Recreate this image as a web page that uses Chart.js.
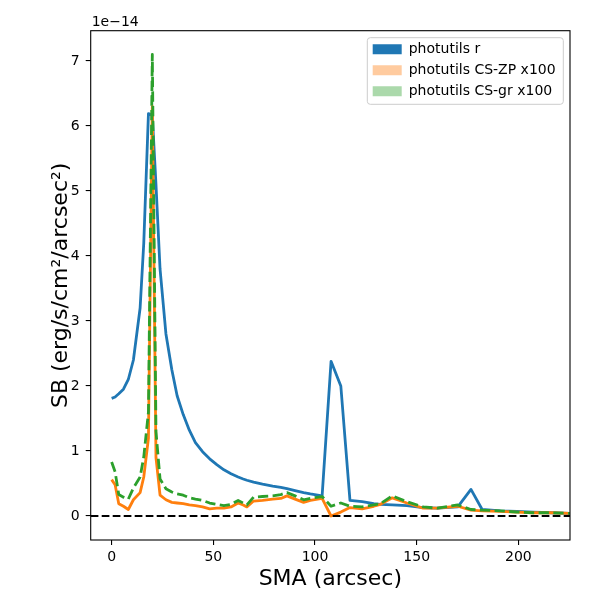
<!DOCTYPE html>
<html>
<head>
<meta charset="utf-8">
<script src="https://cdn.jsdelivr.net/npm/chart.js@4.4.0/dist/chart.umd.min.js"></script>
<style>html,body{margin:0;padding:0;background:#fff}</style>
</head>
<body>
<canvas id="sb-graph" width="600" height="600"></canvas>
<script>
// surface brightness profiles, values in units of 1e-14
const sma = [0, 1.7, 3.5, 5.8, 8.2, 10.7, 14.0, 15.8, 18.1, 20.0,
  21.8, 23.8, 26.7, 29.6, 32.2, 35.2, 38.2, 41.2, 44.7, 48.2,
  51.7, 55.2, 58.7, 62.2, 64.7, 66.5, 69.8, 74.2, 79.2, 83.2,
  86.2, 90.2, 94.4, 97.7, 103.5, 107.9, 112.7, 117.2, 123.2, 128.9,
  132.2, 138, 145.2, 153.2, 160.2, 170.2, 176.7, 182.2, 191.2, 199.2,
  207.2, 216.2, 225.2];
const sbR = [1.81, 1.83, 1.88, 1.95, 2.1, 2.4, 3.2, 4.2, 6.19, 6.16,
  5.1, 3.8, 2.8, 2.25, 1.85, 1.56, 1.32, 1.13, 0.99, 0.88,
  0.79, 0.71, 0.65, 0.6, 0.57, 0.55, 0.52, 0.49, 0.46, 0.44,
  0.42, 0.39, 0.36, 0.34, 0.31, 2.38, 2.0, 0.24, 0.22, 0.19,
  0.18, 0.17, 0.16, 0.13, 0.12, 0.14, 0.41, 0.1, 0.08, 0.07,
  0.06, 0.05, 0.04];
const sbCsZp = [0.56, 0.48, 0.19, 0.15, 0.1, 0.25, 0.36, 0.6, 1.2, 6.3,
  0.9, 0.32, 0.25, 0.21, 0.2, 0.19, 0.17, 0.16, 0.14, 0.11,
  0.12, 0.12, 0.14, 0.2, 0.17, 0.14, 0.23, 0.24, 0.26, 0.27,
  0.31, 0.26, 0.21, 0.24, 0.27, 0.0, 0.06, 0.13, 0.11, 0.15,
  0.18, 0.28, 0.2, 0.12, 0.12, 0.15, 0.09, 0.08, 0.07, 0.06,
  0.05, 0.05, 0.04];
const sbCsGr = [0.83, 0.68, 0.33, 0.29, 0.26, 0.43, 0.6, 0.91, 1.6, 7.1,
  1.3, 0.57, 0.42, 0.37, 0.34, 0.32, 0.28, 0.26, 0.24, 0.2,
  0.18, 0.16, 0.18, 0.24, 0.2, 0.17, 0.29, 0.3, 0.31, 0.33,
  0.36, 0.31, 0.25, 0.27, 0.3, 0.15, 0.2, 0.15, 0.14, 0.17,
  0.19, 0.31, 0.22, 0.14, 0.12, 0.17, 0.1, 0.09, 0.08, 0.06,
  0.05, 0.05, 0.04];
const seriesNames = ['photutils r', 'photutils CS-ZP x100', 'photutils CS-gr x100'];
const xLimits = [-10.3, 225.4];
const yLimits = [-0.369, 7.465];
const xTicks = [0, 50, 100, 150, 200];
const yTicks = [0, 1, 2, 3, 4, 5, 6, 7];

const FONT = "'DejaVu Sans', sans-serif";
const lineColors = ['#1f77b4', '#ff7f0e', '#2ca02c'];
const patchColors = ['#1f77b4', '#ffcb9f', '#abd9ab'];

const toPoints = ys => sma.map((x, i) => ({x: x, y: ys[i]}));

const decor = {
  id: 'decor',
  afterLayout(chart) {
    // put the legend in the upper right corner of the axes
    const lg = chart.legend;
    lg.left = 365.7;
    lg.top = 35.3;
    lg.right = lg.left + 200;
    lg.bottom = lg.top + 70;
  },
  beforeDraw(chart) {
    const c = chart.ctx;
    const lg = chart.legend;
    const x = lg.left + 1.6, y = lg.top + 2.4, w = 196, h = 66.6, r = 3;
    c.save();
    c.beginPath();
    c.moveTo(x + r, y);
    c.arcTo(x + w, y, x + w, y + h, r);
    c.arcTo(x + w, y + h, x, y + h, r);
    c.arcTo(x, y + h, x, y, r);
    c.arcTo(x, y, x + w, y, r);
    c.closePath();
    c.fillStyle = 'rgba(255,255,255,0.8)';
    c.fill();
    c.strokeStyle = '#cccccc';
    c.lineWidth = 1;
    c.stroke();
    c.restore();
  },
  afterDraw(chart) {
    const c = chart.ctx;
    const a = chart.chartArea;
    c.save();
    c.strokeStyle = '#000';
    c.lineWidth = 1.1;
    c.strokeRect(a.left, a.top, a.right - a.left, a.bottom - a.top);
    c.fillStyle = '#000';
    c.font = '14px ' + FONT;
    c.textAlign = 'left';
    c.textBaseline = 'alphabetic';
    c.fillText('1e\u221214', a.left + 1, 26);
    c.restore();
  }
};

const ctx = document.getElementById('sb-graph').getContext('2d');

const chartConfig = {
  type: 'line',
  data: {
    datasets: [{
      label: 'zero',
      data: [{x: xLimits[0], y: 0}, {x: xLimits[1], y: 0}],
      borderColor: '#000',
      borderWidth: 2,
      borderDash: [7.7, 3.3],
      order: 0
    }, {
      label: seriesNames[2],
      data: toPoints(sbCsGr),
      borderColor: lineColors[2],
      backgroundColor: patchColors[2],
      borderWidth: 2.8,
      borderDash: [10.3, 4.4],
      order: 1
    }, {
      label: seriesNames[1],
      data: toPoints(sbCsZp),
      borderColor: lineColors[1],
      backgroundColor: patchColors[1],
      borderWidth: 2.8,
      order: 2
    }, {
      label: seriesNames[0],
      data: toPoints(sbR),
      borderColor: lineColors[0],
      backgroundColor: patchColors[0],
      borderWidth: 2.8,
      order: 3
    }]
  },
  options: {
    responsive: false,
    animation: false,
    devicePixelRatio: 1,
    parsing: false,
    elements: {
      point: {radius: 0},
      line: {tension: 0, fill: false, borderCapStyle: 'butt', borderJoinStyle: 'round'}
    },
    layout: {padding: {left: 0, top: 30.7, right: 30, bottom: 0}},
    scales: {
      x: {
        type: 'linear',
        min: xLimits[0],
        max: xLimits[1],
        afterBuildTicks: s => { s.ticks = xTicks.map(v => ({value: v})); },
        afterFit: s => { s.height = 60; },
        ticks: {
          color: '#000', font: {family: FONT, size: 14}, padding: 4,
          maxRotation: 0, autoSkip: false, callback: v => String(v)
        },
        grid: {drawOnChartArea: false, drawTicks: true, tickLength: 5, color: '#000', lineWidth: 1.1},
        border: {display: false},
        title: {
          display: true, text: 'SMA (arcsec)', color: '#000',
          font: {family: FONT, size: 22}, padding: {top: 0, bottom: 7.3}
        }
      },
      y: {
        type: 'linear',
        min: yLimits[0],
        max: yLimits[1],
        afterBuildTicks: s => { s.ticks = yTicks.map(v => ({value: v})); },
        afterFit: s => { s.width = 90.7; },
        ticks: {
          color: '#000', font: {family: FONT, size: 14}, padding: 6,
          autoSkip: false, callback: v => String(v)
        },
        grid: {drawOnChartArea: false, drawTicks: true, tickLength: 5, color: '#000', lineWidth: 1.1},
        border: {display: false},
        title: {
          display: true, text: 'SB (erg/s/cm\u00b2/arcsec\u00b2)', color: '#000',
          font: {family: FONT, size: 22}, padding: {top: 47.8, bottom: 0}
        }
      }
    },
    plugins: {
      tooltip: {enabled: false},
      legend: {
        position: 'chartArea',
        align: 'start',
        onClick: null,
        labels: {
          boxWidth: 29,
          boxHeight: 10,
          padding: 7,
          color: '#000',
          font: {family: FONT, size: 14},
          generateLabels: () => [0, 1, 2].map(i => ({
            text: seriesNames[i],
            fillStyle: patchColors[i],
            strokeStyle: patchColors[i],
            lineWidth: 0,
            hidden: false,
            datasetIndex: 3 - i
          }))
        }
      }
    }
  },
  plugins: [decor]
};

const sbChart = new Chart(ctx, chartConfig);
</script>
</body>
</html>
